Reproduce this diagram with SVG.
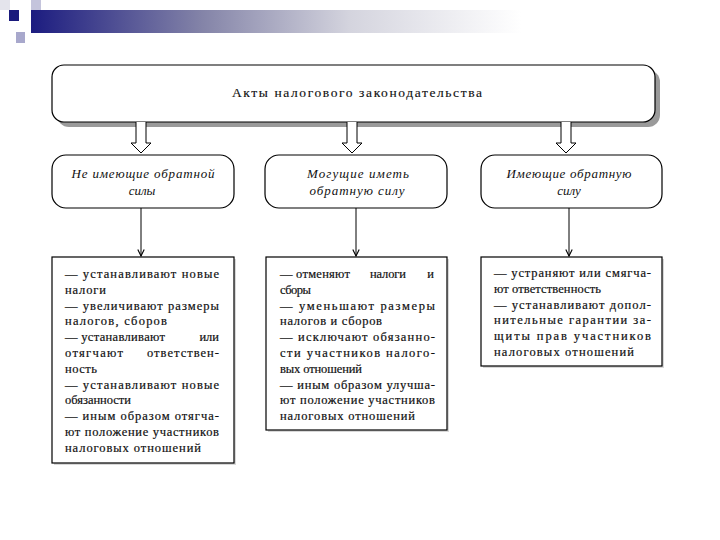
<svg xmlns="http://www.w3.org/2000/svg" width="720" height="540" viewBox="0 0 720 540">
<defs>
<linearGradient id="bar" x1="0" y1="0" x2="1" y2="0">
<stop offset="0" stop-color="#1c1c80"/>
<stop offset="0.35" stop-color="#8484a8"/>
<stop offset="0.65" stop-color="#d4d4de"/>
<stop offset="1" stop-color="#ffffff"/>
</linearGradient>
<marker id="ah" viewBox="0 0 10 10" refX="9" refY="5" markerWidth="8" markerHeight="8" orient="auto" markerUnits="userSpaceOnUse">
<path d="M1,1 L9,5 L1,9" fill="none" stroke="#000" stroke-width="1.4"/>
</marker>
<style>
.box{fill:#fff;stroke:#000;stroke-width:1.2}
.sh{fill:#9a9a9a}
.sh2{fill:#d8d8d8}
.t{font-family:"Liberation Serif",serif;font-size:12.5px;fill:#111;stroke:#111;stroke-width:0.2}
.h{font-family:"Liberation Serif",serif;font-size:13.5px;fill:#111;stroke:#111;stroke-width:0.15}
.i{font-family:"Liberation Serif",serif;font-size:13px;font-style:italic;fill:#111;text-anchor:middle}
.e{text-anchor:end}
.con{fill:none;stroke:#000;stroke-width:1}
.hol{fill:#fff;stroke:#000;stroke-width:1}
</style>
</defs>

<g id="header">
<rect x="0" y="0" width="10" height="10" fill="#e4e4ec"/>
<rect x="9" y="10" width="10" height="11" fill="#1a1a7c"/>
<rect x="31" y="0" width="10" height="10" fill="#c4c4dc"/>
<rect x="31" y="10" width="490" height="23" fill="url(#bar)"/>
<rect x="16" y="32" width="9" height="11" fill="#a8a8cc"/>
</g>

<g id="root">
<rect class="sh" x="57" y="70" width="603" height="57" rx="12"/>
<rect class="box" x="52" y="65" width="603" height="57" rx="12"/>
<text class="h" x="232" y="97" textLength="250" lengthAdjust="spacing">Акты налогового законодательства</text>
</g>

<g id="connectors">
<path class="hol" d="M136,122 V143 H131 L141,153 L151,143 H146 V122"/>
<path class="hol" d="M347,122 V143 H342 L352,153 L362,143 H357 V122"/>
<path class="hol" d="M561,122 V143 H556 L566,153 L576,143 H571 V122"/>
<line class="con" x1="141" y1="208" x2="141" y2="256" marker-end="url(#ah)"/>
<line class="con" x1="356" y1="208" x2="356" y2="256" marker-end="url(#ah)"/>
<line class="con" x1="569" y1="208" x2="569" y2="256" marker-end="url(#ah)"/>
</g>

<g id="kind1">
<rect class="box" x="52" y="155" width="182" height="53" rx="14"/>
<text class="i" x="143" y="178" textLength="143" lengthAdjust="spacing">Не имеющие обратной</text>
<text class="i" x="142" y="195">силы</text>
</g>
<g id="kind2">
<rect class="box" x="265" y="155" width="182" height="53" rx="14"/>
<text class="i" x="358" y="178" textLength="102" lengthAdjust="spacing">Могущие иметь</text>
<text class="i" x="357" y="195" textLength="95" lengthAdjust="spacing">обратную силу</text>
</g>
<g id="kind3">
<rect class="box" x="481" y="155" width="181" height="53" rx="14"/>
<text class="i" x="569" y="178" textLength="125" lengthAdjust="spacing">Имеющие обратную</text>
<text class="i" x="569" y="195">силу</text>
</g>

<g id="list1">
<rect class="sh2" x="54" y="259" width="182" height="206"/>
<rect class="box" x="52" y="257" width="182" height="206"/>
<text class="t" x="65" y="278" textLength="154" lengthAdjust="spacing">— устанавливают новые</text>
<text class="t" x="65" y="293.8" textLength="41" lengthAdjust="spacing">налоги</text>
<text class="t" x="65" y="309.6" textLength="154" lengthAdjust="spacing">— увеличивают размеры</text>
<text class="t" x="65" y="325.4" textLength="102" lengthAdjust="spacing">налогов, сборов</text>
<text class="t" x="65" y="341.2" textLength="100" lengthAdjust="spacing">— устанавливают</text>
<text class="t e" x="219" y="341.2">или</text>
<text class="t" x="65" y="357" textLength="58" lengthAdjust="spacing">отягчают</text>
<text class="t e" x="219" y="357" textLength="72" lengthAdjust="spacing">ответствен-</text>
<text class="t" x="65" y="372.8" textLength="32" lengthAdjust="spacing">ность</text>
<text class="t" x="65" y="388.6" textLength="154" lengthAdjust="spacing">— устанавливают новые</text>
<text class="t" x="65" y="404.4" textLength="66" lengthAdjust="spacing">обязанности</text>
<text class="t" x="65" y="420.2" textLength="154" lengthAdjust="spacing">— иным образом отягча-</text>
<text class="t" x="65" y="436" textLength="154" lengthAdjust="spacing">ют положение участников</text>
<text class="t" x="65" y="451.8" textLength="136" lengthAdjust="spacing">налоговых отношений</text>
</g>

<g id="list2">
<rect class="sh2" x="268" y="259" width="181" height="173"/>
<rect class="box" x="266" y="257" width="181" height="173"/>
<text class="t" x="280" y="278" textLength="70" lengthAdjust="spacing">— отменяют</text>
<text class="t" x="370" y="278" textLength="36" lengthAdjust="spacing">налоги</text>
<text class="t e" x="434" y="278">и</text>
<text class="t" x="280" y="293.8" textLength="31" lengthAdjust="spacing">сборы</text>
<text class="t" x="280" y="309.6" textLength="155" lengthAdjust="spacing">— уменьшают размеры</text>
<text class="t" x="280" y="325.4" textLength="102" lengthAdjust="spacing">налогов и сборов</text>
<text class="t" x="280" y="341.2" textLength="155" lengthAdjust="spacing">— исключают обязанно-</text>
<text class="t" x="280" y="357" textLength="155" lengthAdjust="spacing">сти участников налого-</text>
<text class="t" x="280" y="372.8" textLength="82" lengthAdjust="spacing">вых отношений</text>
<text class="t" x="280" y="388.6" textLength="155" lengthAdjust="spacing">— иным образом улучша-</text>
<text class="t" x="280" y="404.4" textLength="155" lengthAdjust="spacing">ют положение участников</text>
<text class="t" x="280" y="420.2" textLength="135" lengthAdjust="spacing">налоговых отношений</text>
</g>

<g id="list3">
<rect class="sh2" x="483" y="259" width="181" height="109"/>
<rect class="box" x="481" y="257" width="181" height="109"/>
<text class="t" x="494" y="277" textLength="157" lengthAdjust="spacing">— устраняют или смягча-</text>
<text class="t" x="494" y="292.8" textLength="107" lengthAdjust="spacing">ют ответственность</text>
<text class="t" x="494" y="308.6" textLength="157" lengthAdjust="spacing">— устанавливают допол-</text>
<text class="t" x="494" y="324.4" textLength="157" lengthAdjust="spacing">нительные гарантии за-</text>
<text class="t" x="494" y="340.2" textLength="157" lengthAdjust="spacing">щиты прав участников</text>
<text class="t" x="494" y="356" textLength="140" lengthAdjust="spacing">налоговых отношений</text>
</g>
</svg>
